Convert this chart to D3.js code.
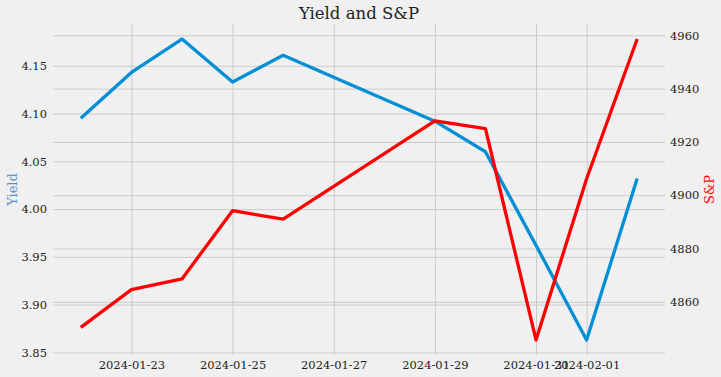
<!DOCTYPE html>
<html>
<head>
<meta charset="utf-8">
<script src="https://cdn.jsdelivr.net/npm/d3@7"></script>
<style>
  body { margin: 0; background: #f0f0f0; }
  svg { display: block; font-family: "DejaVu Serif", serif; }
</style>
</head>
<body>
<div id="my_dataviz"></div>
<script>
// data
var dates = ["2024-01-22", "2024-01-23", "2024-01-24", "2024-01-25", "2024-01-26",
             "2024-01-29", "2024-01-30", "2024-01-31", "2024-02-01", "2024-02-02"];
var yieldValues = [4.095, 4.143, 4.178, 4.133, 4.161, 4.092, 4.060, 3.962, 3.863, 4.032];
var spValues = [4850.4, 4864.6, 4868.6, 4894.2, 4891.0, 4927.9, 4925.0, 4845.7, 4906.2, 4958.6];
var xTicks = ["2024-01-23", "2024-01-25", "2024-01-27", "2024-01-29", "2024-01-31", "2024-02-01"];
var yieldTicks = [3.85, 3.90, 3.95, 4.00, 4.05, 4.10, 4.15];
var spTicks = [4860, 4880, 4900, 4920, 4940, 4960];

var W = 721, H = 377;
var margin = {top: 24, right: 56, bottom: 22, left: 53};
var width = W - margin.left - margin.right,
    height = H - margin.top - margin.bottom;

var parse = d3.utcParse("%Y-%m-%d");
var fmt = d3.utcFormat("%Y-%m-%d");

// matplotlib-like 5% margins
function padded(ext) {
  var p = (ext[1] - ext[0]) * 0.05;
  return [ext[0] - p, ext[1] + p];
}

var svg = d3.select("#my_dataviz")
  .append("svg")
  .attr("width", W)
  .attr("height", H);

svg.append("rect").attr("width", W).attr("height", H).attr("fill", "#f0f0f0");

var g = svg.append("g").attr("transform", "translate(" + margin.left + "," + margin.top + ")");

var x = d3.scaleUtc()
  .domain(padded(d3.extent(dates, function(d) { return parse(d).getTime(); })))
  .range([0, width]);
var yL = d3.scaleLinear().domain(padded(d3.extent(yieldValues))).range([height, 0]);
var yR = d3.scaleLinear().domain(padded(d3.extent(spValues))).range([height, 0]);

var gridColor = "#cbcbcb";
var tickSize = 11.5;

function styleAxis(a) {
  a.select(".domain").remove();
  a.selectAll("line").attr("stroke", gridColor).attr("stroke-width", 1);
  a.selectAll("text").attr("font-size", tickSize).attr("fill", "#222").attr("font-family", "DejaVu Serif");
}

// vertical grid + bottom labels
g.append("g")
  .attr("transform", "translate(0," + height + ")")
  .call(d3.axisBottom(x).tickValues(xTicks.map(parse)).tickFormat(fmt).tickSize(-height).tickPadding(6))
  .call(styleAxis);

// left grid + labels
g.append("g")
  .call(d3.axisLeft(yL).tickValues(yieldTicks).tickFormat(d3.format(".2f")).tickSize(-width).tickPadding(6))
  .call(styleAxis);

// right grid + labels
g.append("g")
  .attr("transform", "translate(" + width + ",0)")
  .call(d3.axisRight(yR).tickValues(spTicks).tickFormat(d3.format("d")).tickSize(-width).tickPadding(5))
  .call(styleAxis);

// lines
var lineL = d3.line()
  .x(function(d, i) { return x(parse(dates[i])); })
  .y(function(d) { return yL(d); });
var lineR = d3.line()
  .x(function(d, i) { return x(parse(dates[i])); })
  .y(function(d) { return yR(d); });

g.append("path").datum(yieldValues)
  .attr("d", lineL).attr("fill", "none")
  .attr("stroke", "#008fd5").attr("stroke-width", 3.3).attr("stroke-linejoin", "round");
g.append("path").datum(spValues)
  .attr("d", lineR).attr("fill", "none")
  .attr("stroke", "#ff0000").attr("stroke-width", 3.3).attr("stroke-linejoin", "round");

// title and axis labels
svg.append("text")
  .attr("x", margin.left + width / 2).attr("y", 19)
  .attr("text-anchor", "middle").attr("font-size", 16.5).attr("fill", "#222")
  .text("Yield and S&P");

svg.append("text")
  .attr("transform", "translate(17," + (margin.top + height / 2) + ") rotate(-90)")
  .attr("text-anchor", "middle").attr("font-size", 13).attr("fill", "#4f8fca")
  .text("Yield");

svg.append("text")
  .attr("transform", "translate(714," + (margin.top + height / 2) + ") rotate(-90)")
  .attr("text-anchor", "middle").attr("font-size", 13).attr("fill", "#ff0000")
  .text("S&P");
</script>
</body>
</html>
